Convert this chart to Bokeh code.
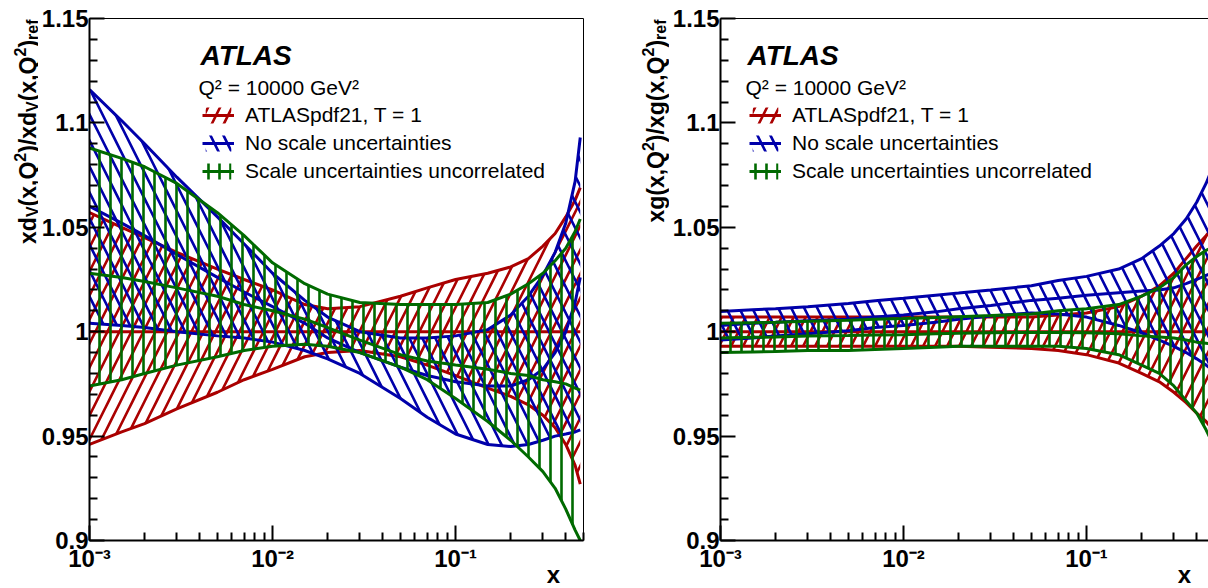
import math
from bokeh.plotting import figure
from bokeh.models import (Range1d, FixedTicker, CustomJSTickFormatter, Label,
                          Legend, LegendItem, LogAxis)
from bokeh.layouts import row
from bokeh.embed import file_html
from bokeh.resources import INLINE

# ---------------- data ----------------
x_grid = [0.001, 0.0015, 0.002, 0.003, 0.005, 0.007, 0.01, 0.015, 0.02, 0.03,
          0.05, 0.07, 0.1, 0.15, 0.2, 0.25, 0.3, 0.35, 0.4, 0.45, 0.48]

# left panel: xd_V ratio
dv_red_up = [1.057, 1.050, 1.045, 1.038, 1.030, 1.025, 1.020, 1.013, 1.011, 1.012,
             1.017, 1.021, 1.025, 1.028, 1.031, 1.035, 1.041, 1.047, 1.055, 1.063, 1.069]
dv_red_c = [1.0, 1.0, 1.0, 1.0, 1.0, 1.0, 1.0, 1.0, 1.0, 1.0,
            1.0, 1.0, 1.0, 1.0, 1.0, 1.0, 1.0, 1.0, 1.0, 1.0, 1.0]
dv_red_lo = [0.946, 0.952, 0.956, 0.963, 0.971, 0.977, 0.982, 0.988, 0.990, 0.991,
             0.988, 0.984, 0.979, 0.973, 0.969, 0.965, 0.960, 0.954, 0.946, 0.936, 0.927]
dv_blue_up = [1.116, 1.101, 1.090, 1.074, 1.055, 1.042, 1.028, 1.015, 1.007, 1.000,
              0.997, 0.997, 0.998, 1.001, 1.008, 1.017, 1.027, 1.038, 1.052, 1.072, 1.093]
dv_blue_c = [1.060, 1.052, 1.046, 1.037, 1.026, 1.019, 1.012, 1.004, 0.997, 0.990,
             0.983, 0.979, 0.976, 0.974, 0.974, 0.977, 0.982, 0.990, 1.000, 1.014, 1.026]
dv_blue_lo = [1.004, 1.003, 1.002, 1.000, 0.998, 0.997, 0.995, 0.991, 0.987, 0.980,
              0.968, 0.959, 0.951, 0.946, 0.945, 0.946, 0.948, 0.950, 0.951, 0.952, 0.953]
dv_green_up = [1.088, 1.083, 1.079, 1.071, 1.057, 1.046, 1.033, 1.023, 1.018, 1.014,
               1.013, 1.013, 1.013, 1.014, 1.018, 1.023, 1.028, 1.034, 1.040, 1.048, 1.054]
dv_green_c = [1.028, 1.026, 1.024, 1.021, 1.017, 1.013, 1.010, 1.006, 1.002, 0.996,
              0.989, 0.986, 0.984, 0.982, 0.980, 0.979, 0.977, 0.976, 0.975, 0.973, 0.972]
dv_green_lo = [0.974, 0.977, 0.980, 0.984, 0.988, 0.991, 0.993, 0.994, 0.993, 0.990,
               0.983, 0.977, 0.968, 0.957, 0.948, 0.940, 0.933, 0.925, 0.915, 0.905, 0.900]

# right panel: xg ratio
g_red_up = [1.007, 1.007, 1.007, 1.007, 1.007, 1.007, 1.007, 1.007, 1.007, 1.007,
            1.007, 1.008, 1.009, 1.012, 1.017, 1.022, 1.028, 1.035, 1.041, 1.046, 1.049]
g_red_c = [1.0, 1.0, 1.0, 1.0, 1.0, 1.0, 1.0, 1.0, 1.0, 1.0,
           1.0, 1.0, 1.0, 1.0, 1.0, 1.0, 1.0, 1.0, 1.0, 1.0, 1.0]
g_red_lo = [0.993, 0.993, 0.993, 0.993, 0.993, 0.993, 0.993, 0.993, 0.993, 0.9925,
            0.992, 0.991, 0.989, 0.985, 0.980, 0.976, 0.971, 0.966, 0.961, 0.957, 0.954]
g_blue_up = [1.0097, 1.0105, 1.011, 1.012, 1.0135, 1.0148, 1.016, 1.0175, 1.0185, 1.020,
             1.022, 1.0245, 1.0265, 1.030, 1.035, 1.041, 1.047, 1.054, 1.062, 1.071, 1.077]
g_blue_c = [1.003, 1.004, 1.0045, 1.0053, 1.006, 1.007, 1.008, 1.0095, 1.011, 1.0125,
            1.015, 1.016, 1.0175, 1.0187, 1.0195, 1.020, 1.021, 1.023, 1.025, 1.027, 1.028]
g_blue_lo = [0.996, 0.997, 0.998, 0.999, 1.0005, 1.002, 1.003, 1.0045, 1.006, 1.0075,
             1.009, 1.0085, 1.007, 1.003, 0.9995, 0.996, 0.993, 0.990, 0.987, 0.984, 0.982]
g_green_up = [1.004, 1.0043, 1.0045, 1.005, 1.0055, 1.006, 1.0063, 1.0068, 1.0072, 1.0077,
              1.0085, 1.010, 1.011, 1.013, 1.017, 1.021, 1.026, 1.032, 1.036, 1.039, 1.040]
g_green_c = [0.997, 0.9973, 0.9975, 0.998, 0.9982, 0.9984, 0.9985, 0.999, 0.9992, 0.9995,
             0.9996, 0.9996, 0.9995, 0.999, 0.998, 0.9975, 0.997, 0.996, 0.995, 0.9945, 0.994]
g_green_lo = [0.990, 0.9903, 0.9905, 0.991, 0.991, 0.9915, 0.992, 0.9925, 0.993, 0.993,
              0.993, 0.993, 0.992, 0.989, 0.984, 0.980, 0.974, 0.967, 0.961, 0.953, 0.948]

legend_labels = ["ATLASpdf21, T = 1", "No scale uncertainties",
                 "Scale uncertainties uncorrelated"]
y_major = [0.9, 0.95, 1.0, 1.05, 1.1, 1.15]
y_minor = [0.91, 0.92, 0.93, 0.94, 0.96, 0.97, 0.98, 0.99, 1.01, 1.02, 1.03, 1.04,
           1.06, 1.07, 1.08, 1.09, 1.11, 1.12, 1.13, 1.14]
x_major = [0.001, 0.01, 0.1]
x_minor = [0.002, 0.003, 0.004, 0.005, 0.006, 0.007, 0.008, 0.009,
           0.02, 0.03, 0.04, 0.05, 0.06, 0.07, 0.08, 0.09,
           0.2, 0.3, 0.4, 0.5]
atlas_text = "ATLAS"
q2_text = "Q² = 10000 GeV²"
x_title = "x"
ytitle_dv = [("xd", "n"), ("V", "sub"), ("(x,Q", "n"), ("2", "sup"), (")/xd", "n"),
             ("V", "sub"), ("(x,Q", "n"), ("2", "sup"), (")", "n"), ("ref", "sub")]
ytitle_g = [("xg(x,Q", "n"), ("2", "sup"), (")/xg(x,Q", "n"), ("2", "sup"),
            (")", "n"), ("ref", "sub")]

# ---------------- style ----------------
FONT = "Liberation Sans"
RED, BLUE, GREEN = "#aa0000", "#0000aa", "#006a00"
FRAME_H = 522
B_TOP, B_BOTTOM = 18, 46
X_TITLE_POS = 0.343
ADV = {"x": .556, "d": .611, "g": .611, "V": .667, "(": .333, ")": .333, ",": .278,
       "Q": .778, "2": .556, "/": .278, "r": .389, "e": .556, "f": .333}


def text_w(s, size):
    return sum(ADV[c] for c in s) * size


def title_fig(width, base_x, pieces):
    t = figure(frame_width=width, frame_height=FRAME_H, x_range=Range1d(0, width),
               y_range=Range1d(0, FRAME_H), x_axis_location=None, y_axis_location=None,
               min_border_left=0, min_border_right=0, min_border_top=B_TOP,
               min_border_bottom=B_BOTTOM, output_backend="svg", toolbar_location=None)
    t.outline_line_color = None
    t.grid.visible = False
    sizes = {"n": 23, "sub": 16, "sup": 16}
    shift = {"n": 0, "sub": 5, "sup": -8}
    total = sum(text_w(s, sizes[k]) for s, k in pieces)
    pos = FRAME_H - 1 - total
    for s, k in pieces:
        t.add_layout(Label(x=base_x + shift[k], y=pos, text=s, angle=math.pi / 2,
                           text_align="left", text_baseline="alphabetic",
                           text_font=FONT, text_font_style="bold", text_color="black",
                           text_font_size=f"{sizes[k]}px"))
        pos += text_w(s, sizes[k])
    return t


def make_panel(bands, frame_w, x_end, b_left, b_right, text_dx, full_outline):
    p = figure(x_axis_type="log", frame_width=frame_w, frame_height=FRAME_H,
               x_range=Range1d(0.001, x_end), y_range=Range1d(0.9, 1.15),
               output_backend="svg", toolbar_location=None,
               min_border_left=b_left, min_border_right=b_right,
               min_border_top=B_TOP, min_border_bottom=B_BOTTOM)
    p.xgrid.visible = False
    p.ygrid.visible = False
    p.background_fill_color = "white"
    p.border_fill_color = "white"
    xa = p.below[0]
    ya = p.left[0]
    if full_outline:
        p.outline_line_color = "black"
        p.outline_line_width = 1
    else:
        p.outline_line_color = None
        top = LogAxis(ticker=FixedTicker(ticks=[], minor_ticks=[]), major_tick_in=0,
                      major_tick_out=0, minor_tick_in=0, minor_tick_out=0,
                      axis_line_width=1, major_label_text_font_size="0px")
        p.add_layout(top, "above")

    xa.ticker = FixedTicker(ticks=x_major, minor_ticks=x_minor)
    ya.ticker = FixedTicker(ticks=y_major, minor_ticks=y_minor)
    ya.formatter = CustomJSTickFormatter(code="return String(tick);")
    xa.formatter = CustomJSTickFormatter(code="""
        const e = Math.round(Math.log10(tick));
        const m = {"-": "\u207b", "0": "\u2070", "1": "\u00b9", "2": "\u00b2", "3": "\u00b3", "4": "\u2074"};
        return "10" + String(e).split("").map(c => m[c]).join("");
    """)
    for ax in (xa, ya):
        ax.axis_line_width = 2
        ax.axis_line_color = "black"
        ax.major_tick_in = 15
        ax.major_tick_out = 0
        ax.minor_tick_in = 8
        ax.minor_tick_out = 0
        ax.major_tick_line_width = 2
        ax.minor_tick_line_width = 2
        ax.major_tick_line_color = "black"
        ax.minor_tick_line_color = "black"
        ax.major_label_text_font = FONT
        ax.major_label_text_font_style = "bold"
        ax.major_label_text_font_size = "24px"
        ax.major_label_text_color = "black"
    xa.major_label_standoff = 4
    ya.major_label_standoff = 1

    # x-axis title, right-aligned like ROOT, via a label-only axis
    xt = LogAxis(ticker=FixedTicker(ticks=[X_TITLE_POS], minor_ticks=[]),
                 formatter=CustomJSTickFormatter(code="return 'x';"),
                 axis_line_color=None, major_tick_in=0, major_tick_out=0,
                 minor_tick_in=0, minor_tick_out=0, major_label_standoff=-14,
                 major_label_text_font=FONT, major_label_text_font_style="bold",
                 major_label_text_font_size="24px", major_label_text_color="black")
    p.add_layout(xt, "below")

    items = []
    for (lo, c, up, color, hatch, scale), label in zip(bands, legend_labels):
        a = p.varea(x=x_grid, y1=lo, y2=up, fill_color=None, fill_alpha=0,
                    hatch_pattern=hatch, hatch_color=color, hatch_weight=2.6,
                    hatch_scale=scale)
        p.line(x_grid, up, line_color=color, line_width=3)
        p.line(x_grid, lo, line_color=color, line_width=3)
        lc = p.line(x_grid, c, line_color=color, line_width=3)
        items.append(LegendItem(label=label, renderers=[a, lc]))

    leg = Legend(items=items, location=(text_dx + 2, 357),
                 border_line_alpha=0, background_fill_alpha=0,
                 label_text_font=FONT, label_text_font_size="21px",
                 label_text_color="black",
                 glyph_width=32, glyph_height=20, label_standoff=11,
                 padding=0, margin=0, spacing=4, label_height=24)
    p.add_layout(leg)

    x0, y0 = 0.001, 0.9
    p.add_layout(Label(x=x0, y=y0, x_offset=text_dx, y_offset=FRAME_H - 37,
                       text=atlas_text, text_font=FONT, text_font_style="bold italic",
                       text_color="black", text_font_size="28px",
                       text_baseline="alphabetic"))
    p.add_layout(Label(x=x0, y=y0, x_offset=text_dx - 2, y_offset=FRAME_H - 69,
                       text=q2_text, text_font=FONT, text_font_size="21px",
                       text_color="black", text_baseline="alphabetic"))
    return p


bands_dv = [(dv_red_lo, dv_red_c, dv_red_up, RED, "/", 24),
            (dv_blue_lo, dv_blue_c, dv_blue_up, BLUE, "\\", 26),
            (dv_green_lo, dv_green_c, dv_green_up, GREEN, "|", 11)]
bands_g = [(g_red_lo, g_red_c, g_red_up, RED, "/", 24),
           (g_blue_lo, g_blue_c, g_blue_up, BLUE, "\\", 26),
           (g_green_lo, g_green_c, g_green_up, GREEN, "|", 11)]

t1 = title_fig(38, 27, ytitle_dv)
p1 = make_panel(bands_dv, 494, 0.5, 51, 14, 111, True)
t2 = title_fig(72, 58, ytitle_g)
p2 = make_panel(bands_g, 492, 0.488, 47, 0, 27, False)

layout = row(t1, p1, t2, p2)
open("out.html", "w").write(file_html(layout, INLINE))
